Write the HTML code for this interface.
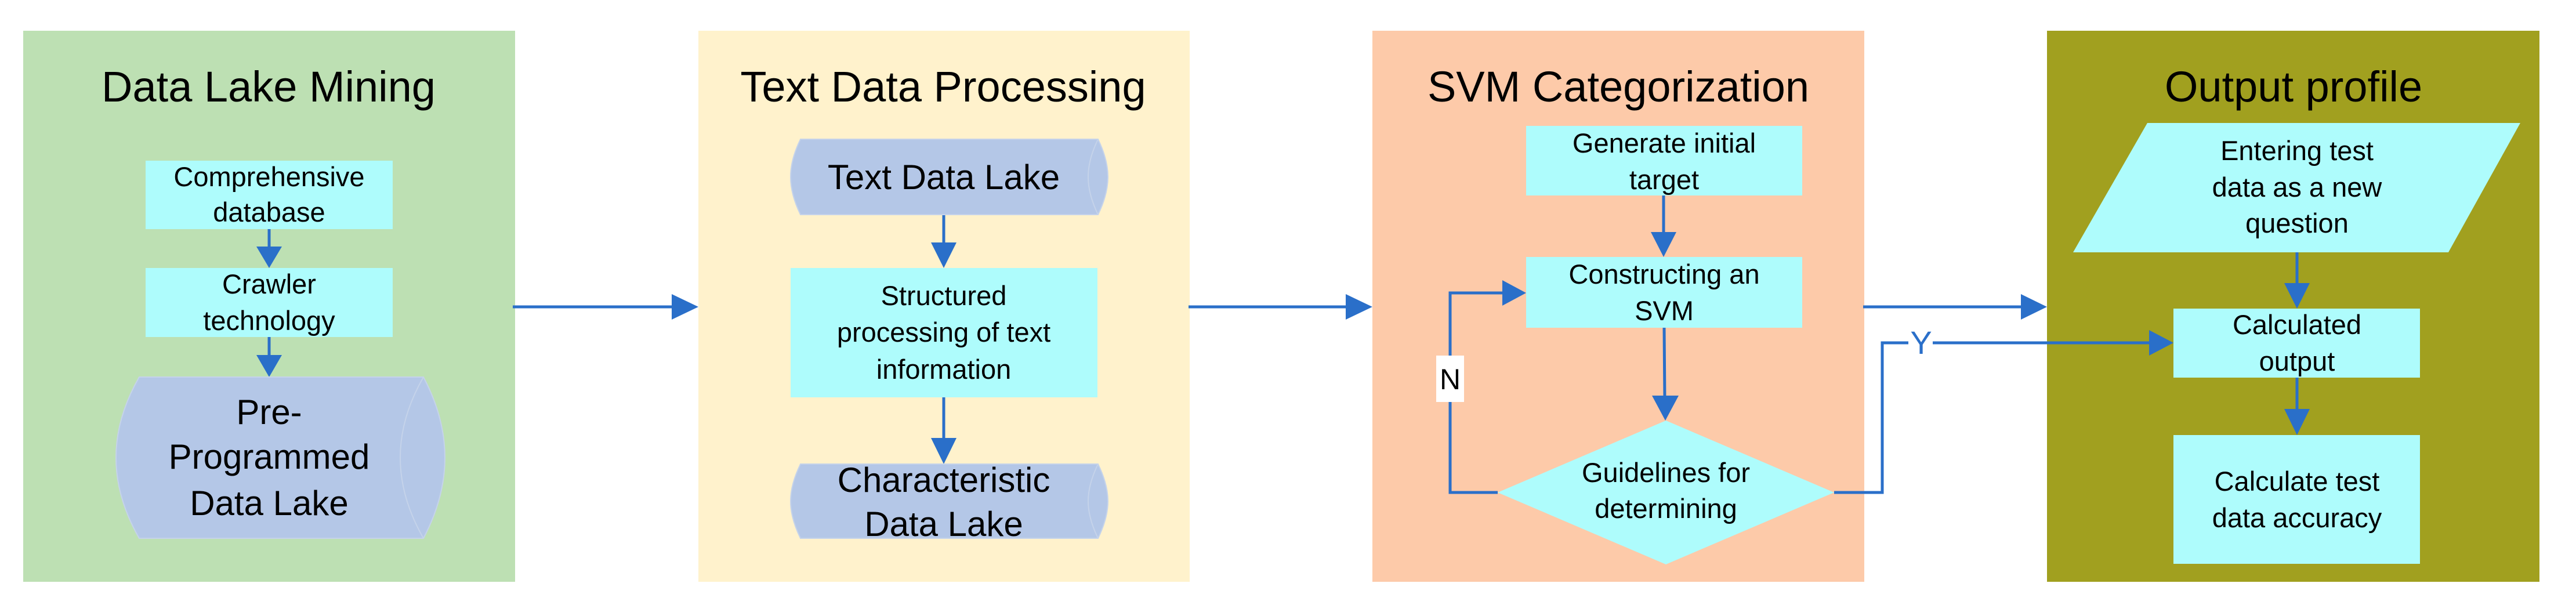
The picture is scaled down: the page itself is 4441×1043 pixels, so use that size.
<!DOCTYPE html>
<html><head><meta charset="utf-8"><style>
html,body{margin:0;padding:0;background:#fff;}
svg{display:block;}
text{font-family:"Liberation Sans",sans-serif;fill:#000;text-anchor:middle;}
</style></head><body>
<svg width="4441" height="1043" viewBox="0 0 4441 1043" xmlns="http://www.w3.org/2000/svg">
<!-- Panels -->
<rect x="40" y="53" width="848" height="950" fill="#bde0b3"/>
<rect x="1204" y="53" width="847" height="950" fill="#fff2cc"/>
<rect x="2366" y="53" width="848" height="950" fill="#fdcaa9"/>
<rect x="3529" y="53" width="849" height="950" fill="#a1a01f"/>

<!-- Titles -->
<text x="463" y="175" font-size="74">Data Lake Mining</text>
<text x="1626" y="175" font-size="74">Text Data Processing</text>
<text x="2790" y="175" font-size="74">SVM Categorization</text>
<text x="3954" y="175" font-size="74">Output profile</text>

<g fill="none" stroke="#2a6fc9" stroke-width="5">
<line x1="884" y1="529" x2="1160" y2="529"/>
<line x1="2049" y1="529" x2="2322" y2="529"/>
<line x1="3212" y1="529" x2="3486" y2="529"/>
<line x1="464" y1="395" x2="464" y2="430"/>
<line x1="464" y1="581" x2="464" y2="618"/>
<line x1="1627" y1="370" x2="1627" y2="425"/>
<line x1="1627" y1="685" x2="1627" y2="762"/>
<line x1="2868" y1="337" x2="2868" y2="405"/>
<line x1="2869" y1="565" x2="2870" y2="690"/>
<polyline points="2582,849 2500,849 2500,505 2596,505"/>
<polyline points="3162,849 3245,849 3245,591 3290,591"/>
<line x1="3332" y1="591" x2="3710" y2="591"/>
<line x1="3960" y1="435" x2="3960" y2="495"/>
<line x1="3960" y1="651" x2="3960" y2="712"/>
</g>
<g fill="#2a6fc9">
<polygon points="1158,507 1204,529 1158,551"/>
<polygon points="2320,507 2366,529 2320,551"/>
<polygon points="3484,507 3529,529 3484,551"/>
<polygon points="442,425 486,425 464,462"/>
<polygon points="442,612 486,612 464,650"/>
<polygon points="1605,418 1649,418 1627,462"/>
<polygon points="1605,755 1649,755 1627,800"/>
<polygon points="2846,400 2890,400 2868,443"/>
<polygon points="2848,682 2894,682 2871,725"/>
<polygon points="2590,483 2631,505 2590,527"/>
<polygon points="3705,569 3747,591 3705,613"/>
<polygon points="3938,488 3982,488 3960,532"/>
<polygon points="3938,705 3982,705 3960,750"/>
</g>

<!-- Panel 1 nodes -->
<rect x="251" y="277" width="426" height="118" fill="#aefcfc"/>
<text x="464" y="321" font-size="47">Comprehensive</text>
<text x="464" y="382" font-size="47">database</text>
<rect x="251" y="462" width="426" height="119" fill="#aefcfc"/>
<text x="464" y="506" font-size="47">Crawler</text>
<text x="464" y="569" font-size="47">technology</text>
<path d="M240,650 L730,650 Q767,720 767,789 Q767,858 730,928 L240,928 Q200,858 200,789 Q200,720 240,650 Z" fill="#b4c7e7" stroke="#c5d3ea" stroke-width="2"/>
<path d="M730,650 Q690,720 690,789 Q690,858 730,928" fill="none" stroke="#c5d3ea" stroke-width="2"/>
<text x="464" y="731" font-size="60">Pre-</text>
<text x="464" y="808" font-size="60">Programmed</text>
<text x="464" y="888" font-size="60">Data Lake</text>

<!-- Panel 2 nodes -->
<path d="M1380,240 L1893,240 Q1910,275 1910,305 Q1910,335 1893,370 L1380,370 Q1363,335 1363,305 Q1363,275 1380,240 Z" fill="#b4c7e7" stroke="#c5d3ea" stroke-width="2"/>
<path d="M1893,240 Q1876,275 1876,305 Q1876,335 1893,370" fill="none" stroke="#c5d3ea" stroke-width="2"/>
<text x="1627" y="326" font-size="60">Text Data Lake</text>
<rect x="1363" y="462" width="529" height="223" fill="#aefcfc"/>
<text x="1627" y="526" font-size="47">Structured</text>
<text x="1627" y="589" font-size="47">processing of text</text>
<text x="1627" y="653" font-size="47">information</text>
<path d="M1380,800 L1893,800 Q1910,835 1910,864 Q1910,893 1893,928 L1380,928 Q1363,893 1363,864 Q1363,835 1380,800 Z" fill="#b4c7e7" stroke="#c5d3ea" stroke-width="2"/>
<path d="M1893,800 Q1876,835 1876,864 Q1876,893 1893,928" fill="none" stroke="#c5d3ea" stroke-width="2"/>
<text x="1627" y="848" font-size="60">Characteristic</text>
<text x="1627" y="924" font-size="60">Data Lake</text>

<!-- Panel 3 nodes -->
<rect x="2631" y="217" width="476" height="120" fill="#aefcfc"/>
<text x="2869" y="263" font-size="47">Generate initial</text>
<text x="2869" y="326" font-size="47">target</text>
<rect x="2631" y="443" width="476" height="122" fill="#aefcfc"/>
<text x="2869" y="489" font-size="47">Constructing an</text>
<text x="2869" y="552" font-size="47">SVM</text>
<polygon points="2872,725 3162,849 2872,973 2582,849" fill="#aefcfc"/>
<text x="2872" y="831" font-size="47">Guidelines for</text>
<text x="2872" y="893" font-size="47">determining</text>
<rect x="2476" y="613" width="48" height="80" fill="#fff"/>
<text x="2500" y="671" font-size="50">N</text>
<text x="3312" y="610" font-size="56" style="fill:#2a6fc9">Y</text>

<!-- Panel 4 nodes -->
<polygon points="3702,212 4345,212 4221,435 3574,435" fill="#aefcfc"/>
<text x="3960" y="276" font-size="47">Entering test</text>
<text x="3960" y="339" font-size="47">data as a new</text>
<text x="3960" y="401" font-size="47">question</text>
<rect x="3747" y="532" width="425" height="119" fill="#aefcfc"/>
<text x="3960" y="576" font-size="47">Calculated</text>
<text x="3960" y="639" font-size="47">output</text>
<rect x="3747" y="750" width="425" height="222" fill="#aefcfc"/>
<text x="3960" y="846" font-size="47">Calculate test</text>
<text x="3960" y="909" font-size="47">data accuracy</text>
</svg>
</body></html>
